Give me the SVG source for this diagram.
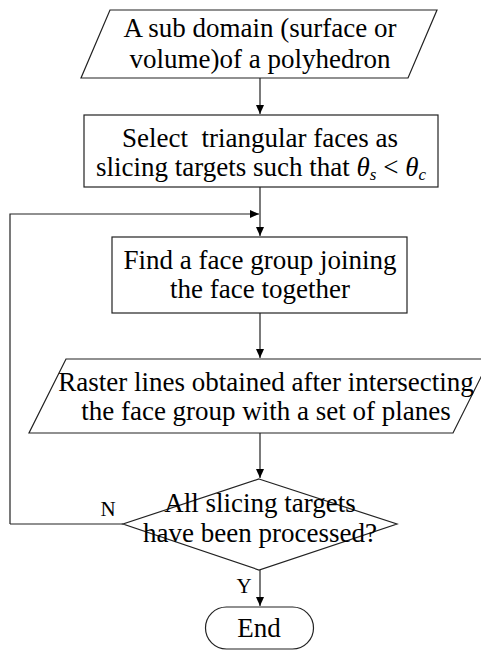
<svg xmlns="http://www.w3.org/2000/svg" width="481" height="650" viewBox="0 0 481 650">
<defs>
<marker id="ah" markerWidth="10" markerHeight="10" refX="9" refY="5" orient="auto" markerUnits="userSpaceOnUse">
<path d="M0,1 L9,5 L0,9 Z" fill="#000"/>
</marker>
<style>
.s{fill:#fff;stroke:#222;stroke-width:1.2}
.c{fill:none;stroke:#222;stroke-width:1.2}
text{font-family:'Liberation Serif','Times New Roman',serif;font-size:27px;fill:#000;text-anchor:middle}
.l{font-size:21px}
</style>
</defs>
<g id="connectors">
<path class="c" d="M260,78 V114" marker-end="url(#ah)"/>
<path class="c" d="M260,187 V236" marker-end="url(#ah)"/>
<path class="c" d="M10,524 H123 M10,524 V214 H259" marker-end="url(#ah)"/>
<path class="c" d="M260,313 V358" marker-end="url(#ah)"/>
<path class="c" d="M260,433 V478" marker-end="url(#ah)"/>
<path class="c" d="M260,570 V606" marker-end="url(#ah)"/>
<text class="l" x="108" y="516">N</text>
<text class="l" x="244" y="593">Y</text>
</g>
<g id="n1">
<polygon class="s" points="110,10 437,10 408,78 81,78"/>
<text x="260" y="37">A sub domain (surface or</text>
<text x="260" y="68">volume)of a polyhedron</text>
</g>
<g id="n2">
<rect class="s" x="84" y="115" width="354" height="72"/>
<text x="260" y="147" xml:space="preserve">Select  triangular faces as</text>
<text x="261" y="176">slicing targets such that <tspan font-style="italic">θ</tspan><tspan font-style="italic" font-size="17" dy="4">s</tspan><tspan dy="-4"> &lt; </tspan><tspan font-style="italic">θ</tspan><tspan font-style="italic" font-size="17" dy="4">c</tspan></text>
</g>
<g id="n3">
<rect class="s" x="112" y="237" width="295" height="76"/>
<text x="260" y="269">Find a face group joining</text>
<text x="260" y="298">the face together</text>
</g>
<g id="n4">
<polygon class="s" points="66,359 490,359 453,433 29,433"/>
<text x="266" y="391" font-size="26.3">Raster lines obtained after intersecting</text>
<text x="266" y="420" font-size="26.3">the face group with a set of planes</text>
</g>
<g id="n5">
<polygon class="s" points="259,479 397,524 259,570 123,524"/>
<text x="260" y="512">All slicing targets</text>
<text x="260" y="542">have been processed?</text>
</g>
<g id="n6">
<rect class="s" x="205.5" y="607" width="108" height="42" rx="21" ry="21"/>
<text x="259" y="637">End</text>
</g>
</svg>
